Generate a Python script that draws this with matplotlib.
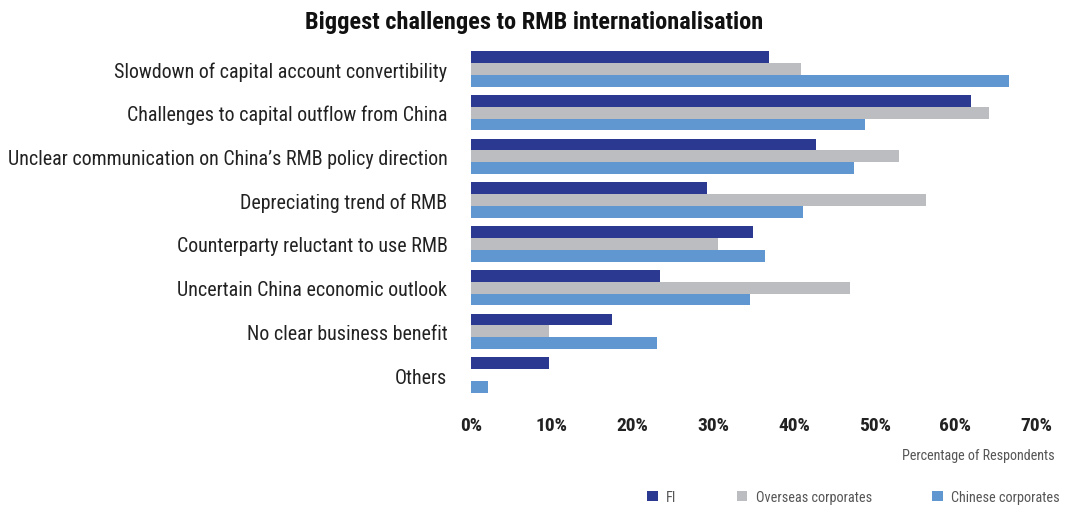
import numpy as np
import matplotlib
matplotlib.use("Agg")
import matplotlib.pyplot as plt
from matplotlib.patches import Patch

# données (% des répondants)
categories = [
    "Slowdown of capital account convertibility",
    "Challenges to capital outflow from China",
    "Unclear communication on China\u2019s RMB policy direction",
    "Depreciating trend of RMB",
    "Counterparty reluctant to use RMB",
    "Uncertain China economic outlook",
    "No clear business benefit",
    "Others",
]
fi = [36.9, 62.0, 42.7, 29.2, 34.9, 23.4, 17.5, 9.7]
overseas = [40.9, 64.2, 53.0, 56.4, 30.6, 47.0, 9.7, 0.0]
chinese = [66.7, 48.8, 47.4, 41.1, 36.4, 34.6, 23.1, 2.1]
series_names = ["FI", "Overseas corporates", "Chinese corporates"]
xticks = [0, 10, 20, 30, 40, 50, 60, 70]

colors = ["#2b3990", "#bcbdc0", "#6097d0"]
fam = ["Roboto Condensed", "DejaVu Sans"]

fig = plt.figure(figsize=(10.73, 5.06), dpi=100)
ax = fig.add_axes([0.439, 0.2134, 0.5265, 0.6917])

y = np.arange(len(categories))
h = 0.272
for i, (vals, c) in enumerate(zip([fi, overseas, chinese], colors)):
    ax.barh(y + (i - 1) * h, vals, height=h, color=c, edgecolor="none")

ax.set_xlim(0, 70)
ax.set_ylim(len(categories) - 0.5, -0.5)
ax.set_yticks(y)
ax.set_yticklabels(categories, family=fam, fontsize=14.4, color="#222222")
ax.set_xticks(xticks)
ax.set_xticklabels([f"{t}%" for t in xticks], family=fam, fontsize=14,
                   fontweight="bold", color="#222222")
ax.tick_params(axis="both", length=0)
ax.tick_params(axis="y", pad=17)
ax.tick_params(axis="x", pad=14)
for s in ax.spines.values():
    s.set_visible(False)

fig.text(0.498, 0.955, "Biggest challenges to RMB internationalisation",
         ha="center", va="center", family=fam, fontsize=17.6, fontweight="black",
         color="#111111")
fig.text(0.983, 0.098, "Percentage of Respondents", ha="right", va="center",
         family=fam, fontsize=10.2, color="#555555")

handles = [Patch(facecolor=c, edgecolor="none") for c in colors]
leg = fig.legend(handles, series_names, loc="center right",
                 bbox_to_anchor=(0.988, 0.016), ncol=3, frameon=False,
                 handlelength=0.75, handleheight=0.75, handletextpad=0.6,
                 columnspacing=4.2, borderpad=0, borderaxespad=0,
                 prop={"family": fam, "size": 10.3})
for t in leg.get_texts():
    t.set_color("#555555")

fig.savefig("out.png", dpi=100)
